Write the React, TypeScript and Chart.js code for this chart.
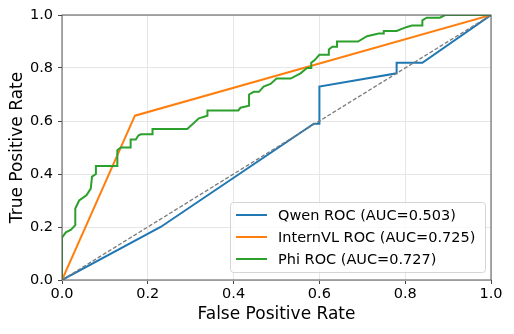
import React, { useEffect, useRef } from "react";
import { Chart, registerables } from "chart.js";

Chart.register(...registerables);

const qwenFpr = [0, 0.23, 0.587, 0.6, 0.6, 0.78, 0.78, 0.84, 1];
const qwenTpr = [0, 0.2, 0.59, 0.59, 0.73, 0.78, 0.82, 0.82, 1];

const internFpr = [0, 0.17, 1];
const internTpr = [0, 0.62, 1];

const phiFpr = [0, 0, 0.009, 0.021, 0.031, 0.031, 0.04, 0.057, 0.067, 0.07, 0.079, 0.079, 0.129, 0.129, 0.137, 0.16, 0.16, 0.172, 0.178, 0.184, 0.211, 0.211, 0.292, 0.319, 0.339, 0.339, 0.411, 0.416, 0.436, 0.436, 0.447, 0.459, 0.47, 0.486, 0.5, 0.533, 0.556, 0.571, 0.581, 0.581, 0.589, 0.6, 0.622, 0.622, 0.63, 0.641, 0.641, 0.69, 0.711, 0.738, 0.75, 0.75, 0.78, 0.804, 0.816, 0.84, 0.84, 0.85, 0.881, 0.893, 1];
const phiTpr = [0, 0.16, 0.18, 0.19, 0.207, 0.27, 0.3, 0.32, 0.345, 0.39, 0.4, 0.43, 0.43, 0.49, 0.5, 0.5, 0.53, 0.53, 0.545, 0.55, 0.55, 0.57, 0.57, 0.61, 0.62, 0.64, 0.64, 0.65, 0.658, 0.7, 0.71, 0.71, 0.73, 0.74, 0.76, 0.76, 0.78, 0.8, 0.8, 0.82, 0.83, 0.85, 0.85, 0.87, 0.88, 0.88, 0.9, 0.9, 0.92, 0.93, 0.93, 0.94, 0.94, 0.955, 0.96, 0.96, 0.98, 0.99, 0.99, 1, 1];

const diagX = [0, 1];
const diagY = [0, 1];

const seriesLabels = ["Qwen ROC (AUC=0.503)", "InternVL ROC (AUC=0.725)", "Phi ROC (AUC=0.727)"];
const seriesColors = ["#1f77b4", "#ff7f0e", "#2ca02c"];

const FONT = "'DejaVu Sans', sans-serif";

function pts(xs: number[], ys: number[]) {
  return xs.map((x, i) => ({ x, y: ys[i] }));
}

const framePlugin = {
  id: "frameLegend",
  afterDraw(chart: any) {
    const { ctx, chartArea } = chart;
    const { left, right, top, bottom } = chartArea;
    ctx.save();
    ctx.strokeStyle = "#555555";
    ctx.lineWidth = 1;
    ctx.strokeRect(left, top, right - left, bottom - top);

    // legend
    const bx = 230.5, by = 202.5, bw = 255, bh = 70, r = 3;
    ctx.beginPath();
    ctx.moveTo(bx + r, by);
    ctx.lineTo(bx + bw - r, by);
    ctx.quadraticCurveTo(bx + bw, by, bx + bw, by + r);
    ctx.lineTo(bx + bw, by + bh - r);
    ctx.quadraticCurveTo(bx + bw, by + bh, bx + bw - r, by + bh);
    ctx.lineTo(bx + r, by + bh);
    ctx.quadraticCurveTo(bx, by + bh, bx, by + bh - r);
    ctx.lineTo(bx, by + r);
    ctx.quadraticCurveTo(bx, by, bx + r, by);
    ctx.closePath();
    ctx.fillStyle = "rgba(255,255,255,0.8)";
    ctx.fill();
    ctx.strokeStyle = "#d5d5d5";
    ctx.stroke();

    ctx.font = `14.5px ${FONT}`;
    ctx.textBaseline = "middle";
    ctx.fillStyle = "#000";
    const rows = [215, 237, 259];
    seriesLabels.forEach((label, i) => {
      ctx.strokeStyle = seriesColors[i];
      ctx.lineWidth = 2;
      ctx.beginPath();
      ctx.moveTo(236, rows[i]);
      ctx.lineTo(267, rows[i]);
      ctx.stroke();
      ctx.fillText(label, 278, rows[i] + 1);
    });
    ctx.restore();
  },
};

export default function App() {
  const ref = useRef<HTMLCanvasElement>(null);
  useEffect(() => {
    if (!ref.current) return;
    const chart = new Chart(ref.current, {
      type: "line",
      data: {
        datasets: [
          { label: seriesLabels[0], data: pts(qwenFpr, qwenTpr), borderColor: seriesColors[0], borderWidth: 2, pointRadius: 0, fill: false, order: 4 },
          { label: seriesLabels[1], data: pts(internFpr, internTpr), borderColor: seriesColors[1], borderWidth: 2, pointRadius: 0, fill: false, order: 3 },
          { label: seriesLabels[2], data: pts(phiFpr, phiTpr), borderColor: seriesColors[2], borderWidth: 2, pointRadius: 0, fill: false, order: 2 },
          { label: "diag", data: pts(diagX, diagY), borderColor: "#7a7a7a", borderWidth: 1.3, borderDash: [4, 2], pointRadius: 0, fill: false, order: 1 },
        ],
      },
      options: {
        animation: false,
        responsive: false,
        layout: { padding: { top: 15, right: 23, left: 0, bottom: 0 } },
        plugins: { legend: { display: false }, tooltip: { enabled: false } },
        scales: {
          x: {
            type: "linear",
            min: 0,
            max: 1,
            ticks: { stepSize: 0.2, color: "#000", font: { family: FONT, size: 14.5 }, padding: 2, callback: (v: any) => Number(v).toFixed(1), maxRotation: 0 },
            grid: { color: "#e6e6e6", tickColor: "#444", tickLength: 4, drawTicks: true },
            border: { display: false },
            title: { display: true, text: "False Positive Rate", color: "#000", font: { family: FONT, size: 17 }, padding: { top: 2, bottom: 9 } },
            afterFit: (s: any) => { s.height = 54; },
          },
          y: {
            type: "linear",
            min: 0,
            max: 1,
            ticks: { stepSize: 0.2, color: "#000", font: { family: FONT, size: 14.5 }, padding: 5, callback: (v: any) => Number(v).toFixed(1) },
            grid: { color: "#e6e6e6", tickColor: "#444", tickLength: 4, drawTicks: true },
            border: { display: false },
            title: { display: true, text: "True Positive Rate", color: "#000", font: { family: FONT, size: 17 }, padding: { top: 7, bottom: 0 } },
            afterFit: (s: any) => { s.width = 62; },
          },
        },
      },
      plugins: [framePlugin],
    } as any);
    return () => chart.destroy();
  }, []);
  return (
    <div style={{ position: "fixed", left: 0, top: 0, width: 514, height: 334, background: "#fff" }}>
      <canvas ref={ref} width={514} height={334} style={{ display: "block", width: 514, height: 334 }} />
    </div>
  );
}
